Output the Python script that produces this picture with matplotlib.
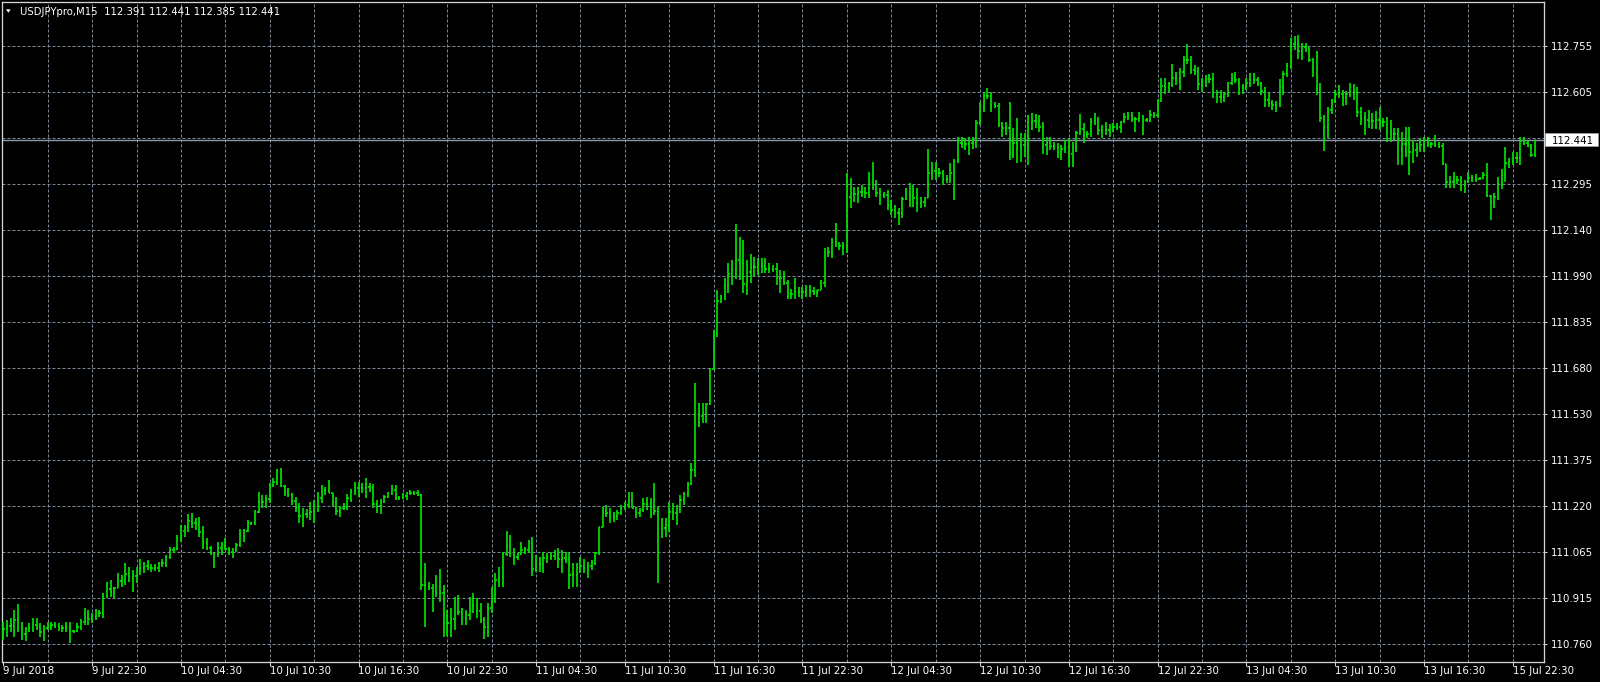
import numpy as np
import matplotlib
matplotlib.use("Agg")
import matplotlib.pyplot as plt
from matplotlib.collections import LineCollection
from matplotlib.transforms import blended_transform_factory
from matplotlib.patches import Rectangle, Polygon

# ---------------- data (prices in 0.001 JPY above 110.000) ----------------
BASE = 110.0
UNIT = 0.001

highs = [
    835, 840, 846, 873, 892, 835, 818, 829, 846, 846,
    829, 823, 835, 835, 835, 829, 823, 835, 835, 807,
    829, 842, 879, 873, 862, 876, 873, 929, 968, 973,
    951, 996, 990, 1029, 1018, 1007, 1016, 1042, 1034, 1040,
    1026, 1027, 1034, 1042, 1057, 1082, 1082, 1123, 1157, 1157,
    1193, 1196, 1179, 1184, 1153, 1112, 1087, 1068, 1101, 1101,
    1112, 1084, 1079, 1096, 1142, 1142, 1173, 1168, 1207, 1268,
    1257, 1257, 1296, 1312, 1342, 1346, 1290, 1279, 1262, 1251,
    1229, 1212, 1209, 1234, 1240, 1268, 1290, 1284, 1307, 1262,
    1251, 1220, 1229, 1260, 1276, 1301, 1301, 1296, 1312, 1296,
    1293, 1240, 1242, 1257, 1268, 1290, 1290, 1253, 1262, 1268,
    1273, 1271, 1273, 1260, 1029, 968, 960, 990, 1009, 957,
    873, 879, 918, 923, 879, 873, 918, 929, 912, 896,
    851, 896, 951, 996, 1018, 1068, 1138, 1123, 1079, 1062,
    1101, 1084, 1107, 1116, 1057, 1051, 1068, 1062, 1068, 1073,
    1079, 1073, 1068, 1062, 1029, 1031, 1049, 1042, 1034, 1040,
    1068, 1151, 1218, 1223, 1212, 1201, 1207, 1223, 1234, 1268,
    1268, 1218, 1212, 1246, 1251, 1246, 1296, 1218, 1179, 1179,
    1234, 1229, 1223, 1257, 1268, 1300, 1362, 1629, 1564, 1562,
    1562, 1679, 1807, 1940, 1923, 1982, 2029, 2040, 2162, 2118,
    2107, 2040, 2062, 2049, 2046, 2046, 2046, 2029, 2023, 2029,
    2007, 2004, 1974, 1943, 1979, 1952, 1952, 1957, 1957, 1952,
    1940, 1974, 2079, 2083, 2113, 2163, 2101, 2101, 2331, 2313,
    2285, 2285, 2290, 2285, 2335, 2368, 2307, 2279, 2268, 2274,
    2240, 2224, 2213, 2251, 2279, 2296, 2290, 2279, 2251, 2251,
    2409, 2368, 2368, 2346, 2340, 2324, 2363, 2376, 2451, 2451,
    2446, 2451, 2449, 2507, 2568, 2601, 2613, 2601, 2568, 2563,
    2501, 2501, 2568, 2479, 2513, 2463, 2463, 2524, 2529, 2527,
    2524, 2500, 2452, 2452, 2435, 2430, 2424, 2441, 2446, 2435,
    2469, 2526, 2496, 2469, 2513, 2530, 2518, 2491, 2502, 2493,
    2496, 2496, 2504, 2530, 2533, 2533, 2518, 2533, 2524, 2513,
    2541, 2533, 2577, 2648, 2648, 2635, 2693, 2668, 2680, 2719,
    2760, 2719, 2691, 2685, 2648, 2657, 2660, 2663, 2607, 2607,
    2602, 2635, 2663, 2668, 2648, 2626, 2646, 2663, 2663, 2652,
    2635, 2618, 2596, 2574, 2571, 2644, 2671, 2696, 2782, 2788,
    2791, 2763, 2763, 2752, 2713, 2737, 2630, 2524, 2552, 2577,
    2607, 2624, 2607, 2604, 2630, 2626, 2618, 2552, 2535, 2541,
    2530, 2537, 2552, 2513, 2518, 2507, 2480, 2482, 2468, 2485,
    2485, 2441, 2430, 2446, 2452, 2452, 2435, 2457, 2435, 2430,
    2360, 2319, 2335, 2319, 2319, 2307, 2335, 2324, 2326, 2318,
    2335, 2363, 2257, 2263, 2318, 2344, 2418, 2380, 2402, 2402,
    2452, 2452, 2437, 2426, 2441,
]

lows = [
    773, 785, 801, 785, 801, 773, 771, 801, 801, 807,
    785, 770, 807, 807, 812, 805, 801, 801, 762, 798,
    801, 807, 823, 823, 829, 840, 849, 846, 912, 918,
    912, 946, 951, 957, 968, 935, 962, 990, 996, 1007,
    1001, 1004, 1001, 1018, 1018, 1042, 1062, 1073, 1101, 1118,
    1134, 1146, 1140, 1118, 1076, 1073, 1057, 1012, 1051, 1057,
    1073, 1057, 1046, 1068, 1084, 1101, 1134, 1157, 1157, 1196,
    1212, 1212, 1229, 1284, 1290, 1284, 1253, 1251, 1223, 1201,
    1164, 1151, 1179, 1173, 1164, 1201, 1229, 1257, 1262, 1218,
    1190, 1182, 1207, 1207, 1234, 1257, 1251, 1262, 1246, 1268,
    1212, 1198, 1193, 1229, 1246, 1257, 1240, 1240, 1242, 1240,
    1257, 1257, 1254, 940, 818, 940, 868, 918, 901, 784,
    787, 784, 807, 857, 823, 823, 840, 862, 846, 831,
    776, 784, 862, 896, 951, 951, 1053, 1051, 1023, 1040,
    1057, 1060, 1062, 987, 1001, 1001, 998, 1031, 1040, 1040,
    1012, 998, 1029, 942, 949, 951, 998, 996, 979, 1007,
    1023, 1057, 1151, 1185, 1165, 1168, 1173, 1190, 1207, 1212,
    1212, 1179, 1185, 1201, 1207, 1179, 1190, 962, 1112, 1116,
    1135, 1173, 1157, 1198, 1223, 1251, 1290, 1318, 1485, 1496,
    1496, 1557, 1673, 1784, 1896, 1907, 1929, 1957, 1976, 1973,
    1929, 1923, 1964, 1984, 1990, 1996, 1998, 1996, 2001, 1957,
    1930, 1957, 1910, 1909, 1909, 1918, 1909, 1918, 1916, 1924,
    1918, 1940, 1952, 2051, 2046, 2085, 2074, 2057, 2063, 2213,
    2235, 2229, 2251, 2246, 2246, 2274, 2251, 2224, 2246, 2207,
    2190, 2179, 2157, 2179, 2240, 2218, 2218, 2201, 2213, 2218,
    2246, 2307, 2307, 2318, 2290, 2296, 2296, 2240, 2363, 2413,
    2407, 2390, 2409, 2413, 2490, 2535, 2576, 2535, 2546, 2485,
    2451, 2457, 2374, 2379, 2363, 2368, 2385, 2357, 2474, 2479,
    2468, 2395, 2391, 2407, 2407, 2380, 2374, 2396, 2352, 2352,
    2402, 2457, 2430, 2446, 2452, 2491, 2457, 2446, 2457, 2452,
    2468, 2474, 2463, 2496, 2507, 2502, 2468, 2502, 2457, 2502,
    2502, 2513, 2513, 2568, 2593, 2602, 2618, 2624, 2607, 2652,
    2693, 2660, 2657, 2607, 2602, 2618, 2630, 2582, 2563, 2563,
    2568, 2585, 2624, 2630, 2591, 2593, 2607, 2618, 2626, 2622,
    2591, 2552, 2552, 2541, 2533, 2552, 2591, 2652, 2676, 2740,
    2710, 2707, 2735, 2702, 2652, 2591, 2502, 2404, 2446, 2526,
    2563, 2580, 2555, 2557, 2585, 2574, 2518, 2491, 2457, 2480,
    2477, 2477, 2474, 2485, 2435, 2435, 2441, 2357, 2357, 2385,
    2324, 2363, 2385, 2400, 2402, 2418, 2413, 2418, 2415, 2357,
    2280, 2282, 2282, 2293, 2271, 2263, 2296, 2302, 2302, 2307,
    2311, 2250, 2174, 2213, 2241, 2277, 2302, 2346, 2357, 2363,
    2357, 2424, 2418, 2385, 2385,
]

opens = [
    800, 810, 820, 825, 840, 815, 795, 810, 815, 825,
    818, 800, 815, 820, 824, 820, 812, 812, 818, 803,
    804, 818, 833, 848, 845, 851, 860, 862, 920, 943,
    935, 948, 970, 974, 993, 985, 988, 1003, 1015, 1020,
    1016, 1015, 1015, 1026, 1030, 1050, 1072, 1078, 1112, 1138,
    1146, 1170, 1162, 1160, 1135, 1094, 1080, 1062, 1060, 1079,
    1087, 1078, 1068, 1073, 1090, 1121, 1138, 1162, 1163, 1201,
    1234, 1234, 1243, 1290, 1300, 1315, 1287, 1266, 1256, 1237,
    1215, 1188, 1194, 1194, 1200, 1220, 1248, 1270, 1273, 1262,
    1234, 1205, 1213, 1218, 1247, 1266, 1279, 1279, 1279, 1282,
    1280, 1226, 1219, 1235, 1251, 1262, 1273, 1246, 1248, 1252,
    1262, 1264, 1264, 1257, 958, 955, 948, 938, 955, 930,
    830, 830, 843, 887, 868, 848, 856, 890, 887, 871,
    841, 817, 879, 923, 973, 985, 1060, 1088, 1065, 1051,
    1060, 1072, 1073, 1084, 1010, 1026, 1026, 1046, 1051, 1054,
    1056, 1042, 1048, 1045, 989, 990, 1014, 1020, 1015, 1020,
    1031, 1062, 1150, 1200, 1198, 1185, 1187, 1198, 1215, 1223,
    1240, 1215, 1198, 1206, 1226, 1226, 1218, 1204, 1130, 1148,
    1157, 1201, 1198, 1210, 1240, 1260, 1295, 1340, 1500, 1520,
    1529, 1560, 1676, 1795, 1905, 1915, 1955, 1993, 2008, 2040,
    2030, 1960, 2000, 2016, 2018, 2021, 2022, 2012, 2012, 2012,
    1982, 1980, 1965, 1926, 1926, 1935, 1935, 1935, 1937, 1938,
    1932, 1940, 1963, 2065, 2067, 2099, 2093, 2087, 2082, 2250,
    2260, 2260, 2268, 2268, 2265, 2305, 2290, 2265, 2257, 2257,
    2223, 2207, 2196, 2196, 2245, 2260, 2254, 2248, 2232, 2234,
    2248, 2330, 2337, 2332, 2329, 2310, 2310, 2330, 2370, 2432,
    2430, 2426, 2429, 2431, 2498, 2552, 2588, 2588, 2557, 2554,
    2493, 2479, 2479, 2400, 2429, 2415, 2424, 2424, 2499, 2503,
    2501, 2484, 2423, 2430, 2421, 2418, 2402, 2410, 2418, 2393,
    2418, 2463, 2476, 2457, 2460, 2502, 2504, 2474, 2474, 2475,
    2480, 2485, 2485, 2500, 2518, 2520, 2510, 2510, 2513, 2507,
    2508, 2523, 2523, 2572, 2620, 2618, 2626, 2646, 2646, 2666,
    2706, 2706, 2675, 2671, 2627, 2633, 2643, 2645, 2594, 2585,
    2585, 2593, 2630, 2646, 2639, 2610, 2616, 2632, 2644, 2639,
    2628, 2604, 2574, 2563, 2556, 2561, 2617, 2661, 2686, 2761,
    2764, 2736, 2749, 2743, 2707, 2682, 2610, 2513, 2485, 2539,
    2570, 2593, 2593, 2580, 2594, 2605, 2596, 2535, 2513, 2507,
    2505, 2503, 2507, 2499, 2499, 2471, 2460, 2460, 2412, 2426,
    2435, 2402, 2408, 2415, 2424, 2435, 2426, 2426, 2426, 2422,
    2360, 2300, 2300, 2306, 2306, 2289, 2301, 2313, 2313, 2312,
    2314, 2323, 2253, 2235, 2252, 2297, 2323, 2363, 2368, 2382,
    2382, 2438, 2430, 2422, 2391,
]

closes = [
    810, 820, 825, 840, 815, 795, 810, 815, 825, 818,
    800, 815, 820, 824, 820, 812, 812, 818, 803, 804,
    818, 833, 848, 845, 851, 860, 862, 920, 943, 935,
    948, 970, 974, 993, 985, 988, 1003, 1015, 1020, 1016,
    1015, 1015, 1026, 1030, 1050, 1072, 1078, 1112, 1138, 1146,
    1170, 1162, 1160, 1135, 1094, 1080, 1062, 1060, 1079, 1087,
    1078, 1068, 1073, 1090, 1121, 1138, 1162, 1163, 1201, 1234,
    1234, 1243, 1290, 1300, 1315, 1287, 1266, 1256, 1237, 1215,
    1188, 1194, 1194, 1200, 1220, 1248, 1270, 1273, 1262, 1234,
    1205, 1213, 1218, 1247, 1266, 1279, 1279, 1279, 1282, 1280,
    1226, 1219, 1235, 1251, 1262, 1273, 1246, 1248, 1252, 1262,
    1264, 1264, 1257, 958, 955, 948, 938, 955, 930, 830,
    830, 843, 887, 868, 848, 856, 890, 887, 871, 841,
    817, 879, 923, 973, 985, 1060, 1088, 1065, 1051, 1060,
    1072, 1073, 1084, 1010, 1026, 1026, 1046, 1051, 1054, 1056,
    1042, 1048, 1045, 989, 990, 1014, 1020, 1015, 1020, 1031,
    1062, 1150, 1200, 1198, 1185, 1187, 1198, 1215, 1223, 1240,
    1215, 1198, 1206, 1226, 1226, 1218, 1204, 1130, 1148, 1157,
    1201, 1198, 1210, 1240, 1260, 1295, 1340, 1500, 1520, 1529,
    1560, 1676, 1795, 1905, 1915, 1955, 1993, 2008, 2040, 2030,
    1960, 2000, 2016, 2018, 2021, 2022, 2012, 2012, 2012, 1982,
    1980, 1965, 1926, 1926, 1935, 1935, 1935, 1937, 1938, 1932,
    1940, 1963, 2065, 2067, 2099, 2093, 2087, 2082, 2250, 2260,
    2260, 2268, 2268, 2265, 2305, 2290, 2265, 2257, 2257, 2223,
    2207, 2196, 2196, 2245, 2260, 2254, 2248, 2232, 2234, 2248,
    2330, 2337, 2332, 2329, 2310, 2310, 2330, 2370, 2432, 2430,
    2426, 2429, 2431, 2498, 2552, 2588, 2588, 2557, 2554, 2493,
    2479, 2479, 2400, 2429, 2415, 2424, 2424, 2499, 2503, 2501,
    2484, 2423, 2430, 2421, 2418, 2402, 2410, 2418, 2393, 2418,
    2463, 2476, 2457, 2460, 2502, 2504, 2474, 2474, 2475, 2480,
    2485, 2485, 2500, 2518, 2520, 2510, 2510, 2513, 2507, 2508,
    2523, 2523, 2572, 2620, 2618, 2626, 2646, 2646, 2666, 2706,
    2706, 2675, 2671, 2627, 2633, 2643, 2645, 2594, 2585, 2585,
    2593, 2630, 2646, 2639, 2610, 2616, 2632, 2644, 2639, 2628,
    2604, 2574, 2563, 2556, 2561, 2617, 2661, 2686, 2761, 2764,
    2736, 2749, 2743, 2707, 2682, 2610, 2513, 2485, 2539, 2570,
    2593, 2593, 2580, 2594, 2605, 2596, 2535, 2513, 2507, 2505,
    2503, 2507, 2499, 2499, 2471, 2460, 2460, 2412, 2426, 2435,
    2402, 2408, 2415, 2424, 2435, 2426, 2426, 2426, 2422, 2360,
    2300, 2300, 2306, 2306, 2289, 2301, 2313, 2313, 2312, 2314,
    2323, 2253, 2235, 2252, 2297, 2323, 2363, 2368, 2382, 2382,
    2438, 2430, 2422, 2391, 2441,
]

symbol = "USDJPYpro,M15"
last_ohlc = ["112.391", "112.441", "112.385", "112.441"]
current_price = 112.441
current_label = "112.441"

y_grid_values = [110.760, 110.9135, 111.0669, 111.2204, 111.3738, 111.5273, 111.6808,
                 111.8342, 111.9877, 112.1412, 112.2946, 112.4481, 112.6015, 112.755]
y_grid_labels = ["110.760", "110.915", "111.065", "111.220", "111.375", "111.530", "111.680",
                 "111.835", "111.990", "112.140", "112.295", "", "112.605", "112.755"]

x_labels = ["9 Jul 2018", "9 Jul 22:30", "10 Jul 04:30", "10 Jul 10:30", "10 Jul 16:30",
            "10 Jul 22:30", "11 Jul 04:30", "11 Jul 10:30", "11 Jul 16:30", "11 Jul 22:30",
            "12 Jul 04:30", "12 Jul 10:30", "12 Jul 16:30", "12 Jul 22:30", "13 Jul 04:30",
            "13 Jul 10:30", "13 Jul 16:30", "15 Jul 22:30"]
bars_per_label = 24
bars_per_grid = 12

assert len(highs) == len(lows) == len(opens) == len(closes), (len(highs), len(lows), len(opens), len(closes))

# ---------------- styling ----------------
W, H = 1600, 682
PX = 72.0 / 100.0  # points per pixel
BG = "black"
BAR_C = "#00e400"
GRID_C = "#7b8898"
SPINE_C = "#d4d4d4"
TEXT_C = "white"

fig = plt.figure(figsize=(W / 100, H / 100), dpi=100, facecolor=BG)
ax_l, ax_r, ax_t, ax_b = 2.0, 1544.0, 2.0, 661.7
ax = fig.add_axes([ax_l / W, 1 - ax_b / H, (ax_r - ax_l) / W, (ax_b - ax_t) / H])
ax.set_facecolor(BG)

first_px, bar_px = 3.3, 3.7
ax.set_xlim((ax_l - first_px) / bar_px, (ax_r - first_px) / bar_px)
ax.set_ylim(110.701, 112.9007)

hi = BASE + np.asarray(highs) * UNIT
lo = BASE + np.asarray(lows) * UNIT
op = BASE + np.asarray(opens) * UNIT
cl = BASE + np.asarray(closes) * UNIT
n = len(cl)
xs = np.arange(n)

# grid
for v in y_grid_values:
    ax.axhline(v, color=GRID_C, lw=PX, dashes=(3, 2), zorder=1)
for k in range(1, n // bars_per_grid + 1):
    ax.axvline(k * bars_per_grid, color=GRID_C, lw=PX, dashes=(3, 2), zorder=1)

# current price line
ax.axhline(current_price, color="#8c99a8", lw=1.4 * PX, zorder=2)

# OHLC bars
tick_len = 0.33
segs = []
for i in range(n):
    segs.append([(xs[i], lo[i]), (xs[i], hi[i])])
    segs.append([(xs[i] - tick_len, op[i]), (xs[i], op[i])])
    segs.append([(xs[i], cl[i]), (xs[i] + tick_len, cl[i])])
lc = LineCollection(segs, colors=BAR_C, linewidths=1.7 * PX, capstyle="butt", zorder=3)
ax.add_collection(lc)

# spines
for s in ax.spines.values():
    s.set_color(SPINE_C)
    s.set_linewidth(1.3 * PX)

# y axis on the right
ax.yaxis.tick_right()
ax.set_yticks(y_grid_values)
ax.set_yticklabels(y_grid_labels)
ax.tick_params(axis="y", which="both", length=3 * PX, width=PX, color=SPINE_C,
               labelcolor=TEXT_C, labelsize=7.4, pad=3.5 * PX, left=False, right=True)

# x axis
xt = [j * bars_per_label for j in range(len(x_labels))]
ax.set_xticks(xt)
ax.set_xticklabels(x_labels)
ax.tick_params(axis="x", which="both", length=4 * PX, width=PX, color=SPINE_C,
               labelcolor=TEXT_C, labelsize=7.4, pad=0.5)
for lab in ax.get_xticklabels():
    lab.set_horizontalalignment("left")

# current price label box
data_per_px = (ax.get_ylim()[1] - ax.get_ylim()[0]) / (ax_b - ax_t)
trans = blended_transform_factory(fig.transFigure, ax.transData)
box_h = 13 * data_per_px
rect = Rectangle((1545 / W, current_price - box_h / 2), 53 / W, box_h, transform=trans,
                 facecolor="white", edgecolor="#9a9a9a", lw=0.6, clip_on=False, zorder=10)
fig.add_artist(rect)
fig.text(1551.5 / W, current_price, current_label, transform=trans, color="black",
         fontsize=7.4, ha="left", va="center_baseline", zorder=11)

# title
fig.add_artist(Polygon([[6 / W, 1 - 9.3 / H], [10.7 / W, 1 - 9.3 / H], [8.35 / W, 1 - 12.8 / H]],
                       closed=True, transform=fig.transFigure, facecolor="white", edgecolor="none"))
fig.text(20 / W, 1 - 15 / H, symbol + "  " + " ".join(last_ohlc), color=TEXT_C,
         fontsize=7.3, family="DejaVu Sans", ha="left", va="baseline")

fig.savefig("out.png", dpi=100, facecolor=BG)
